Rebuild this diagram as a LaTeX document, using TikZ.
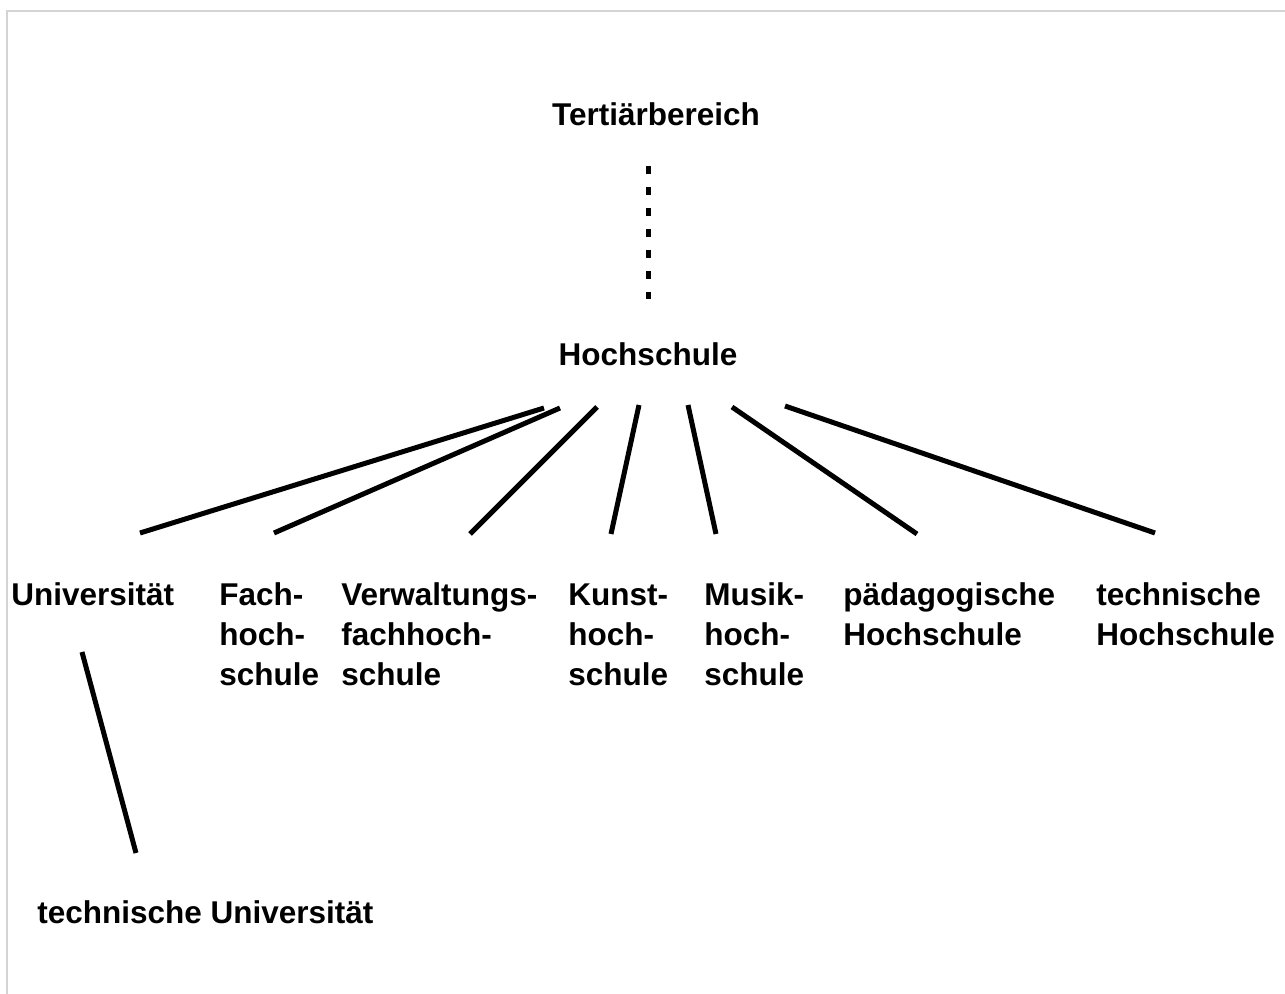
\documentclass[tikz,border=0pt]{standalone}
\usepackage{fontspec}
\setmainfont{Liberation Sans}
\begin{document}
\begin{tikzpicture}[x=0.5pt,y=-0.5pt,
  lbl/.style={font=\bfseries\fontsize{15.75pt}{20pt}\selectfont, inner sep=0pt, anchor=base west, align=left},
  edge/.style={line width=2.5pt, line cap=butt},
  frame/.style={draw=black!17, line width=1.25pt}]
\useasboundingbox (0,0) rectangle (1285,994);
\fill[white] (0,0) rectangle (1285,994);
% page frame (top and left edges)
\draw[frame] (7,994) -- (7,11) -- (1285,11);

% labels (multi-line labels are placed by the baseline of their last line)
\node[lbl, anchor=base] (tb) at (656,126) {Tertiärbereich};
\node[lbl, anchor=base] (hs) at (648,366) {Hochschule};
\node[lbl] (uni) at (11,605) {Universität};
\node[lbl] (fh)  at (219,685) {Fach-\\hoch-\\schule};
\node[lbl] (vfh) at (341,685) {Verwaltungs-\\fachhoch-\\schule};
\node[lbl] (kh)  at (568,685) {Kunst-\\hoch-\\schule};
\node[lbl] (mh)  at (704,685) {Musik-\\hoch-\\schule};
\node[lbl] (ph)  at (843,645) {pädagogische\\Hochschule};
\node[lbl] (th)  at (1096,645) {technische\\Hochschule};
\node[lbl] (tu)  at (37,923) {technische Universität};

% connector end points
\coordinate (tb-s) at (648,166);
\coordinate (hs-n) at (648,299);
\coordinate (hs-1) at (544,408);
\coordinate (hs-2) at (560,408);
\coordinate (hs-3) at (597,407);
\coordinate (hs-4) at (639,405);
\coordinate (hs-5) at (688,405);
\coordinate (hs-6) at (732,407);
\coordinate (hs-7) at (785,406);
\coordinate (uni-n) at (140,533);
\coordinate (fh-n)  at (274,533);
\coordinate (vfh-n) at (470,534);
\coordinate (kh-n)  at (611,534);
\coordinate (mh-n)  at (716,534);
\coordinate (ph-n)  at (917,534);
\coordinate (th-n)  at (1155,533);
\coordinate (uni-s) at (82,652);
\coordinate (tu-n)  at (136,853);

% connectors
\draw[edge, dash pattern=on 4pt off 6.5pt] (tb-s) -- (hs-n);
\draw[edge] (hs-1) -- (uni-n);
\draw[edge] (hs-2) -- (fh-n);
\draw[edge] (hs-3) -- (vfh-n);
\draw[edge] (hs-4) -- (kh-n);
\draw[edge] (hs-5) -- (mh-n);
\draw[edge] (hs-6) -- (ph-n);
\draw[edge] (hs-7) -- (th-n);
\draw[edge] (uni-s) -- (tu-n);
\end{tikzpicture}
\end{document}
